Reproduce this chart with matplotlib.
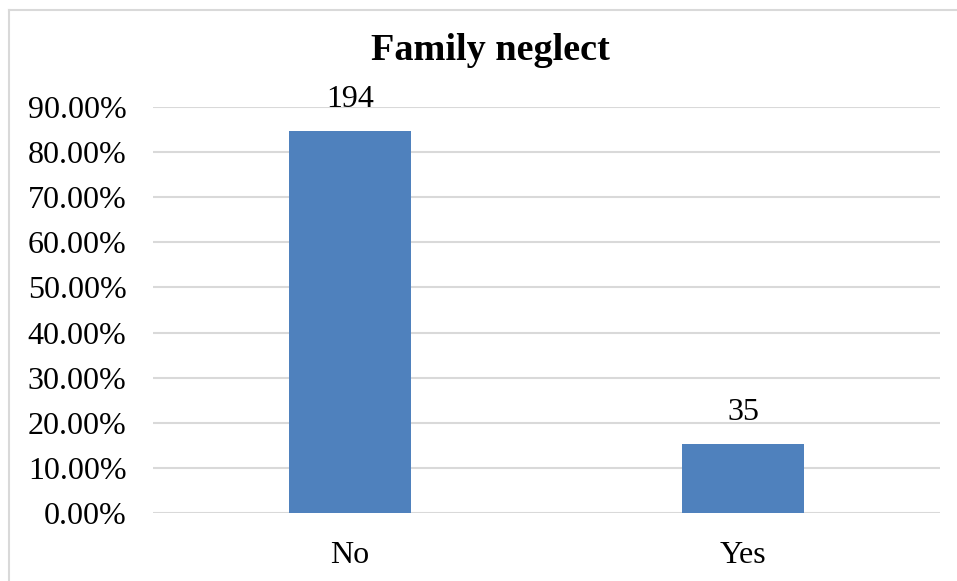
import matplotlib.pyplot as plt
from matplotlib.lines import Line2D

categories = ["No", "Yes"]
counts = [194, 35]
shares = [194 / 229, 35 / 229]
yticks = [0.0, 0.1, 0.2, 0.3, 0.4, 0.5, 0.6, 0.7, 0.8, 0.9]

plt.rcParams['font.family'] = ['Liberation Serif', 'DejaVu Serif']

fig = plt.figure(figsize=(9.57, 5.81), dpi=100)
ax = fig.add_axes([153 / 957, 1 - 513 / 581, 787 / 957, 406 / 581])

bars = ax.bar(range(len(categories)), shares, width=0.31, color="#4F81BD", zorder=3)
for b, c in zip(bars, counts):
    ax.annotate(str(c), (b.get_x() + b.get_width() / 2, b.get_height()),
                xytext=(0, 12), textcoords="offset points",
                ha="center", va="bottom", fontsize=23)

ax.set_xlim(-0.5, 1.5)
ax.set_ylim(0, 0.9)
ax.set_yticks(yticks)
ax.set_yticklabels([f"{v * 100:.2f}%" for v in yticks], fontsize=23)
ax.set_xticks(range(len(categories)))
ax.set_xticklabels(categories, fontsize=23)
ax.tick_params(axis="y", length=0, pad=19)
ax.tick_params(axis="x", length=0, pad=20)
ax.yaxis.grid(True, color="#D9D9D9", linewidth=1.5, zorder=0)
ax.set_axisbelow(True)
for s in ax.spines.values():
    s.set_visible(False)

fig.text(490 / 957, 1 - 50 / 581, "Family neglect", ha="center", va="center",
         fontsize=27.5, fontweight="bold")

# light frame round the chart area (top and left edges only visible)
fig.add_artist(Line2D([9 / 957, 1], [1 - 10 / 581, 1 - 10 / 581], color="#D9D9D9", linewidth=1.5))
fig.add_artist(Line2D([9 / 957, 9 / 957], [0, 1 - 10 / 581], color="#D9D9D9", linewidth=1.5))

fig.savefig("out.png", dpi=100, facecolor="white")
